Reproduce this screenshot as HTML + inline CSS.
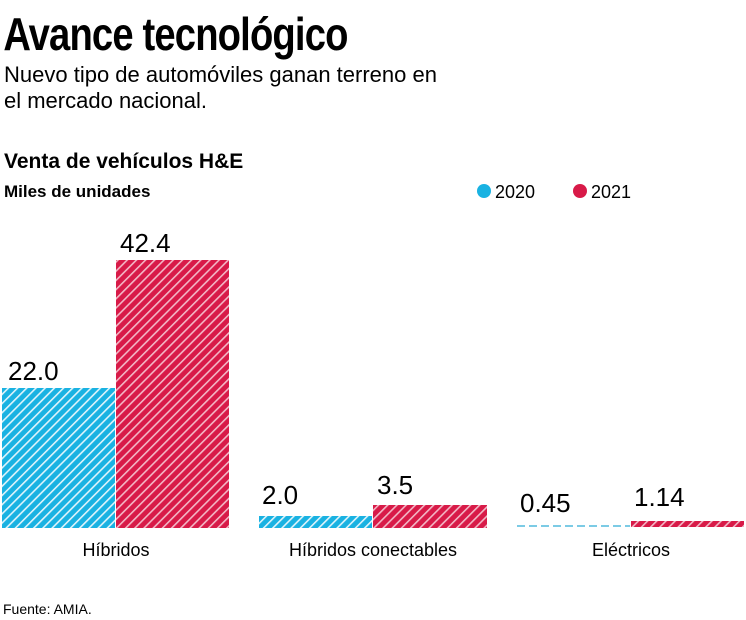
<!DOCTYPE html>
<html><head><meta charset="utf-8"><style>
body{margin:0;width:746px;height:620px;background:#fff;overflow:hidden;font-family:"Liberation Sans",sans-serif;color:#111}
</style></head><body>
<svg width="746" height="620" xmlns="http://www.w3.org/2000/svg" style="position:absolute;left:0;top:0">
<defs>
<pattern id="hb" patternUnits="userSpaceOnUse" width="6.5" height="12" patternTransform="rotate(45)">
<rect width="6.5" height="12" fill="#19b2e2"/><rect x="0" y="0" width="1.6" height="12" fill="#dff4fb"/></pattern>
<pattern id="hr" patternUnits="userSpaceOnUse" width="6.5" height="12" patternTransform="rotate(45)">
<rect width="6.5" height="12" fill="#d81a48"/><rect x="0" y="0" width="1.6" height="12" fill="#f3b7c6"/></pattern>
</defs>
<text x="4" y="50" font-size="46" font-weight="bold" transform="scale(0.83,1)" style="letter-spacing:-1px">Avance tecnológico</text>
<text x="4" y="82" font-size="22">Nuevo tipo de automóviles ganan terreno en</text>
<text x="4" y="108" font-size="22">el mercado nacional.</text>
<text x="4" y="168" font-size="21" font-weight="bold">Venta de vehículos H&amp;E</text>
<text x="4" y="197" font-size="17" font-weight="bold">Miles de unidades</text>
<circle cx="484" cy="191" r="7" fill="#19b2e2"/><text x="495" y="198" font-size="18">2020</text>
<circle cx="580" cy="191" r="7" fill="#d81a48"/><text x="591" y="198" font-size="18">2021</text>
<rect x="2" y="388" width="113" height="140" fill="url(#hb)"/>
<rect x="116" y="260" width="113" height="268" fill="url(#hr)"/>
<rect x="259" y="516" width="113" height="12" fill="url(#hb)"/>
<rect x="373" y="505" width="114" height="23" fill="url(#hr)"/>
<line x1="517" y1="526" x2="630" y2="526" stroke="#7ccbe5" stroke-width="2" stroke-dasharray="8,4"/>
<rect x="631" y="521" width="113" height="6" fill="url(#hr)"/>
<g font-size="26">
<text x="8" y="380">22.0</text><text x="120" y="252">42.4</text>
<text x="262" y="504">2.0</text><text x="377" y="494">3.5</text>
<text x="520" y="512">0.45</text><text x="634" y="506">1.14</text>
</g>
<g font-size="18" text-anchor="middle">
<text x="116" y="556">Híbridos</text><text x="373" y="556">Híbridos conectables</text><text x="631" y="556">Eléctricos</text>
</g>
<text x="3" y="614" font-size="14">Fuente: AMIA.</text>
</svg>
</body></html>
